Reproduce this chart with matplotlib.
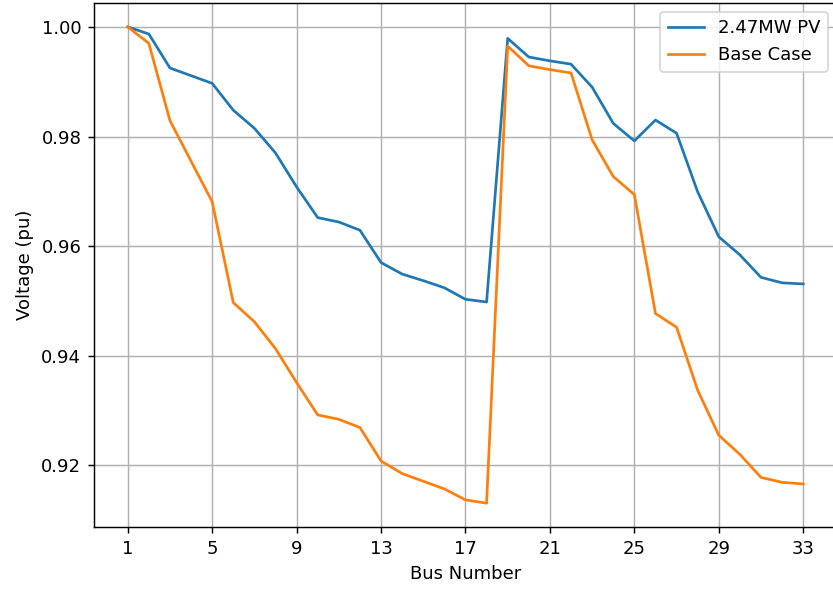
import matplotlib
matplotlib.use("Agg")
import matplotlib.pyplot as plt

# Bus voltages (pu) for the 33-bus feeder
buses = list(range(1, 34))
pv_voltage = [
    1.0000, 0.9987, 0.9925, 0.9911, 0.9897, 0.9848, 0.9815, 0.9770, 0.9708,
    0.9652, 0.9644, 0.9629, 0.9570, 0.9549, 0.9537, 0.9524, 0.9503, 0.9498,
    0.9979, 0.9945, 0.9938, 0.9932, 0.9890, 0.9824, 0.9792, 0.9830, 0.9806,
    0.9699, 0.9617, 0.9584, 0.9543, 0.9533, 0.9531,
]
base_voltage = [
    1.0000, 0.9970, 0.9829, 0.9755, 0.9681, 0.9497, 0.9462, 0.9413, 0.9351,
    0.9292, 0.9284, 0.9269, 0.9208, 0.9185, 0.9171, 0.9157, 0.9137, 0.9131,
    0.9965, 0.9929, 0.9922, 0.9916, 0.9794, 0.9727, 0.9694, 0.9477, 0.9452,
    0.9337, 0.9255, 0.9220, 0.9178, 0.9169, 0.9166,
]
xticks = list(range(1, 34, 4))
yticks = [0.92, 0.94, 0.96, 0.98, 1.00]

fig = plt.figure(figsize=(833 / 130, 590 / 130), dpi=130)
ax = fig.add_axes([0.1128, 0.1068, 0.892, 0.888])

ax.plot(buses, pv_voltage, color="#1f77b4", linewidth=1.5, label="2.47MW PV")
ax.plot(buses, base_voltage, color="#ff7f0e", linewidth=1.5, label="Base Case")

ax.set_xticks(xticks)
ax.set_yticks(yticks)
ax.set_yticklabels([f"{v:.2f}" for v in yticks])
ax.set_xlabel("Bus Number")
ax.set_ylabel("Voltage (pu)")
ax.grid(True)
ax.legend(loc="upper right")

fig.savefig("out.png", dpi=130)
